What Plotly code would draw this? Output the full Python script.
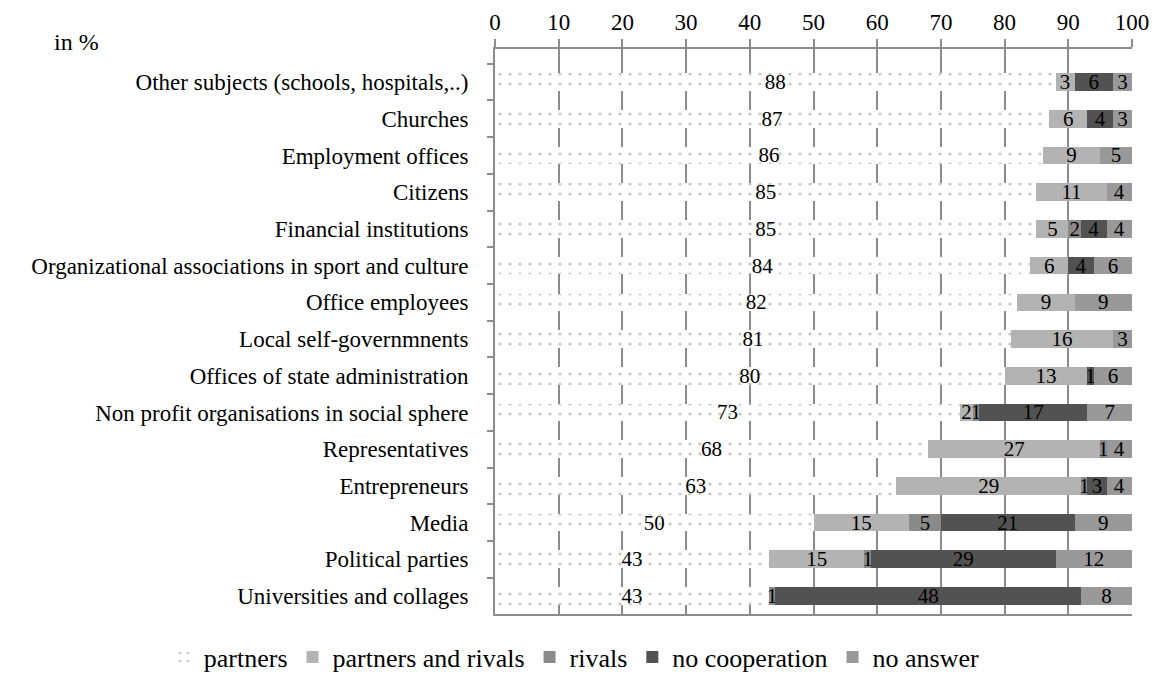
import plotly.graph_objects as go

categories = [
    "Other subjects (schools, hospitals,..)",
    "Churches",
    "Employment offices",
    "Citizens",
    "Financial institutions",
    "Organizational associations in sport and culture",
    "Office employees",
    "Local self-governmnents",
    "Offices of state administration",
    "Non profit organisations in social sphere",
    "Representatives",
    "Entrepreneurs",
    "Media",
    "Political parties",
    "Universities and collages",
]

partners = [88, 87, 86, 85, 85, 84, 82, 81, 80, 73, 68, 63, 50, 43, 43]
partners_and_rivals = [3, 6, 9, 11, 5, 6, 9, 16, 13, 2, 27, 29, 15, 15, 0]
rivals = [0, 0, 0, 0, 2, 0, 0, 0, 0, 1, 1, 1, 5, 1, 1]
no_cooperation = [6, 4, 0, 0, 4, 4, 0, 0, 1, 17, 0, 3, 21, 29, 48]
no_answer = [3, 3, 5, 4, 4, 6, 9, 3, 6, 7, 4, 4, 9, 12, 8]

x_ticks = list(range(0, 101, 10))

FONT = "Liberation Serif"
idx = list(range(len(categories)))

series = [
    ("partners", partners, "#ffffff"),
    ("partners and rivals", partners_and_rivals, "#b3b3b3"),
    ("rivals", rivals, "#8a8a8a"),
    ("no cooperation", no_cooperation, "#525252"),
    ("no answer", no_answer, "#999999"),
]

fig = go.Figure()
for name, vals, color in series:
    texts = [str(v) if v > 0 else "" for v in vals]
    if name == "partners":
        marker = dict(
            color="#ffffff",
            line=dict(width=0),
            pattern=dict(shape=".", fgcolor="#8a8a8a", bgcolor="#ffffff",
                         size=10, solidity=0.08),
        )
    else:
        marker = dict(color=color, line=dict(width=0))
    fig.add_trace(go.Bar(
        name=name,
        y=idx,
        x=vals,
        orientation="h",
        marker=marker,
        text=texts,
        textposition="inside",
        insidetextanchor="middle",
        textangle=0,
        textfont=dict(family=FONT, size=21, color="#000000"),
        constraintext="none",
        cliponaxis=False,
    ))

fig.update_layout(
    barmode="stack",
    bargap=0.52,
    width=1158,
    height=684,
    paper_bgcolor="#ffffff",
    plot_bgcolor="#ffffff",
    margin=dict(l=495, r=26, t=49, b=70, autoexpand=False),
    font=dict(family=FONT, size=22, color="#000000"),
    uniformtext=dict(mode=False),
    xaxis=dict(
        side="top",
        range=[0, 100],
        tickvals=x_ticks,
        ticktext=[str(v) for v in x_ticks],
        showgrid=True,
        gridcolor="#8c8c8c",
        gridwidth=2,
        showline=True,
        linecolor="#8c8c8c",
        linewidth=2,
        mirror=True,
        ticks="outside",
        ticklen=8,
        tickcolor="#8c8c8c",
        tickwidth=2,
        zeroline=False,
        tickfont=dict(family=FONT, size=23),
    ),
    yaxis=dict(
        range=[14.49, -0.9],
        tickvals=idx,
        ticktext=categories,
        ticks="",
        showline=True,
        linecolor="#8c8c8c",
        linewidth=2,
        showgrid=False,
        zeroline=False,
        ticklabelstandoff=20,
        tickfont=dict(family=FONT, size=23),
        minor=dict(tickvals=[i + 0.5 for i in range(-1, 15)], ticks="outside",
                   ticklen=6, tickcolor="#8c8c8c", tickwidth=2, showgrid=False),
    ),
    legend=dict(
        orientation="h",
        x=-0.52, xanchor="left",
        y=-0.118, yanchor="bottom",
        font=dict(family=FONT, size=26),
        traceorder="normal",
        itemsizing="constant",
        itemwidth=30,
    ),
    annotations=[
        dict(text="in %", xref="paper", yref="paper", x=-0.695, y=1.012,
             xanchor="left", yanchor="middle", showarrow=False,
             font=dict(family=FONT, size=24)),
    ],
)

fig.write_html("out.html")
